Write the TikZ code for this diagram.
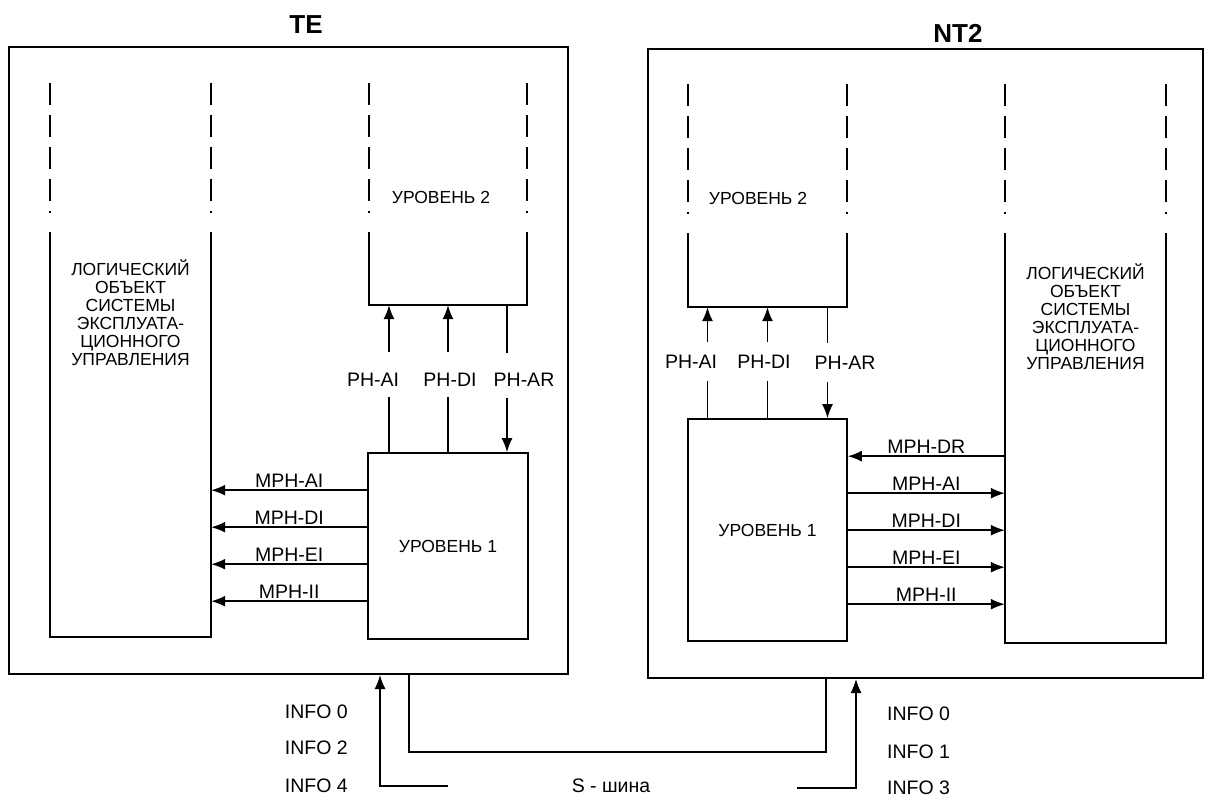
\documentclass[tikz,border=0pt]{standalone}
\usepackage{fontspec}
\setmainfont{Liberation Sans}
\usetikzlibrary{arrows.meta}
\usetikzlibrary{shapes}

\tikzset{
	outer/.style={draw, line width=2pt, inner sep=0pt},
	lvbox/.style={draw, line width=1.6pt, inner sep=0pt, font=\fontsize{17.5}{17.5}\selectfont},
	colbox/.style={inner sep=0pt},
	side/.style={line width=1.6pt},
	colup/.style={line width=1.6pt, dash pattern=on 22pt off 10pt on 22pt off 10pt on 22pt off 10pt on 22pt off 10pt on 2pt off 19pt},
	arr/.style={line width=1.5pt, -{Latex[length=14pt,width=11pt]}},
	lbl/.style={font=\fontsize{19.5}{19.5}\selectfont, inner sep=2pt},
	lvtxt/.style={font=\fontsize{17.5}{17.5}\selectfont},
	logtxt/.style={font=\fontsize{17.5}{18}\selectfont, align=center},
	ttl/.style={font=\fontsize{26}{26}\selectfont\bfseries}
}

\begin{document}
\begin{tikzpicture}[x=1pt, y=-1pt]
	\useasboundingbox (0,0) rectangle (1205,799);
	%% outer boxes
	\node[outer, minimum width=559pt, minimum height=627pt] (TE) at (288.5,360.5) {};
	\node[outer, minimum width=555pt, minimum height=629pt] (NT) at (925.5,363.5) {};
	\node[ttl] (ttlTE) at (306,25) {TE};
	\node[ttl] (ttlNT) at (958,33) {NT2};

	%% TE: open columns and level 1
	\node[colbox, minimum width=161pt, minimum height=405pt] (logTE) at (130.5,434.5) {};
	\node[colbox, minimum width=158pt, minimum height=73pt] (lv2TE) at (448,268.5) {};
	\node[lvbox, minimum width=160pt, minimum height=186pt] (lv1TE) at (448,546) {УРОВЕНЬ 1};
	\draw[side] (logTE.north west) |- (logTE.south east) -- (logTE.north east);
	\draw[side] (lv2TE.north west) |- (lv2TE.south east) -- (lv2TE.north east);
	\draw[colup] ([yshift=149pt]logTE.north west) -- (logTE.north west);
	\draw[colup] ([yshift=149pt]logTE.north east) -- (logTE.north east);
	\draw[colup] ([yshift=149pt]lv2TE.north west) -- (lv2TE.north west);
	\draw[colup] ([yshift=149pt]lv2TE.north east) -- (lv2TE.north east);
	\node[logtxt] (txTE) at (130.5,313) {ЛОГИЧЕСКИЙ\\ОБЪЕКТ\\СИСТЕМЫ\\ЭКСПЛУАТА-\\ЦИОННОГО\\УПРАВЛЕНИЯ};
	\node[lvtxt] (l2TE) at (441,197) {УРОВЕНЬ 2};

	%% NT2: open columns and level 1
	\node[colbox, minimum width=159pt, minimum height=74pt] (lv2NT) at (767.5,270) {};
	\node[lvbox, minimum width=159pt, minimum height=222pt] (lv1NT) at (767.5,530) {УРОВЕНЬ 1};
	\node[colbox, minimum width=161pt, minimum height=410pt] (logNT) at (1085.5,438) {};
	\draw[side] (lv2NT.north west) |- (lv2NT.south east) -- (lv2NT.north east);
	\draw[side] (logNT.north west) |- (logNT.south east) -- (logNT.north east);
	\draw[colup] ([yshift=149pt]lv2NT.north west) -- (lv2NT.north west);
	\draw[colup] ([yshift=149pt]lv2NT.north east) -- (lv2NT.north east);
	\draw[colup] ([yshift=149pt]logNT.north west) -- (logNT.north west);
	\draw[colup] ([yshift=149pt]logNT.north east) -- (logNT.north east);
	\node[logtxt] (txNT) at (1085.5,317) {ЛОГИЧЕСКИЙ\\ОБЪЕКТ\\СИСТЕМЫ\\ЭКСПЛУАТА-\\ЦИОННОГО\\УПРАВЛЕНИЯ};
	\node[lvtxt] (l2NT) at (758,198) {УРОВЕНЬ 2};

	%% PH primitives, TE
	\node[lbl] (phaiTE) at (373,380) {PH-AI};
	\node[lbl] (phdiTE) at (450,380) {PH-DI};
	\node[lbl] (pharTE) at (524,380) {PH-AR};
	\draw[arr] ([xshift=-59pt]lv1TE.north) -- ++(0,-55) ++(0,-45) -- ([xshift=-59pt]lv2TE.south);
	\draw[arr] (lv1TE.north) -- ++(0,-55) ++(0,-45) -- (lv2TE.south);
	\draw[arr] ([xshift=59pt]lv2TE.south) -- ++(0,48) ++(0,45) -- ([xshift=59pt]lv1TE.north);

	%% PH primitives, NT2
	\node[lbl] (phaiNT) at (691,362) {PH-AI};
	\node[lbl] (phdiNT) at (764,362) {PH-DI};
	\node[lbl] (pharNT) at (845,363) {PH-AR};
	\draw[arr] ([xshift=-60pt]lv1NT.north) -- ++(0,-37) ++(0,-39) -- ([xshift=-60pt]lv2NT.south);
	\draw[arr] (lv1NT.north) -- ++(0,-37) ++(0,-39) -- (lv2NT.south);
	\draw[arr] ([xshift=60pt]lv2NT.south) -- ++(0,36) ++(0,39) -- ([xshift=60pt]lv1NT.north);

	%% MPH primitives, TE
	\draw[arr] ([yshift=-38pt]lv1TE.north west) -- ([yshift=-38pt]lv1TE.north west -| logTE.east)
		node[lbl, midway, above] {MPH-AI};
	\draw[arr] ([yshift=-75pt]lv1TE.north west) -- ([yshift=-75pt]lv1TE.north west -| logTE.east)
		node[lbl, midway, above] {MPH-DI};
	\draw[arr] ([yshift=-112pt]lv1TE.north west) -- ([yshift=-112pt]lv1TE.north west -| logTE.east)
		node[lbl, midway, above] {MPH-EI};
	\draw[arr] ([yshift=-149pt]lv1TE.north west) -- ([yshift=-149pt]lv1TE.north west -| logTE.east)
		node[lbl, midway, above] {MPH-II};

	%% MPH primitives, NT2
	\draw[arr] ([yshift=-38pt]lv1NT.north east -| logNT.west) -- ([yshift=-38pt]lv1NT.north east)
		node[lbl, midway, above] {MPH-DR};
	\draw[arr] ([yshift=-75pt]lv1NT.north east) -- ([yshift=-75pt]lv1NT.north east -| logNT.west)
		node[lbl, midway, above] {MPH-AI};
	\draw[arr] ([yshift=-112pt]lv1NT.north east) -- ([yshift=-112pt]lv1NT.north east -| logNT.west)
		node[lbl, midway, above] {MPH-DI};
	\draw[arr] ([yshift=-149pt]lv1NT.north east) -- ([yshift=-149pt]lv1NT.north east -| logNT.west)
		node[lbl, midway, above] {MPH-EI};
	\draw[arr] ([yshift=-186pt]lv1NT.north east) -- ([yshift=-186pt]lv1NT.north east -| logNT.west)
		node[lbl, midway, above] {MPH-II};

	%% S-bus
	\coordinate (inTE) at (448,786);
	\coordinate (inNT) at (797,788);
	\draw[arr] (inTE) -| ([xshift=-189pt]TE.south east);
	\draw[arr] (inNT) -| ([xshift=209pt]NT.south west);
	\draw[side] ([xshift=-160pt]TE.south east) |- ([xshift=179pt,yshift=-73pt]NT.south west) -- ([xshift=179pt]NT.south west);
	\node[lbl, anchor=east] (i0TE) at (350,712) {INFO 0};
	\node[lbl, anchor=east] (i2TE) at (350,748) {INFO 2};
	\node[lbl, anchor=east] (i4TE) at (350,786) {INFO 4};
	\node[lbl, anchor=west] (i0NT) at (885,714) {INFO 0};
	\node[lbl, anchor=west] (i1NT) at (885,752) {INFO 1};
	\node[lbl, anchor=west] (i3NT) at (885,788) {INFO 3};
	\node[lbl] (sbus) at (611,786) {S - шина};
\end{tikzpicture}
\end{document}
